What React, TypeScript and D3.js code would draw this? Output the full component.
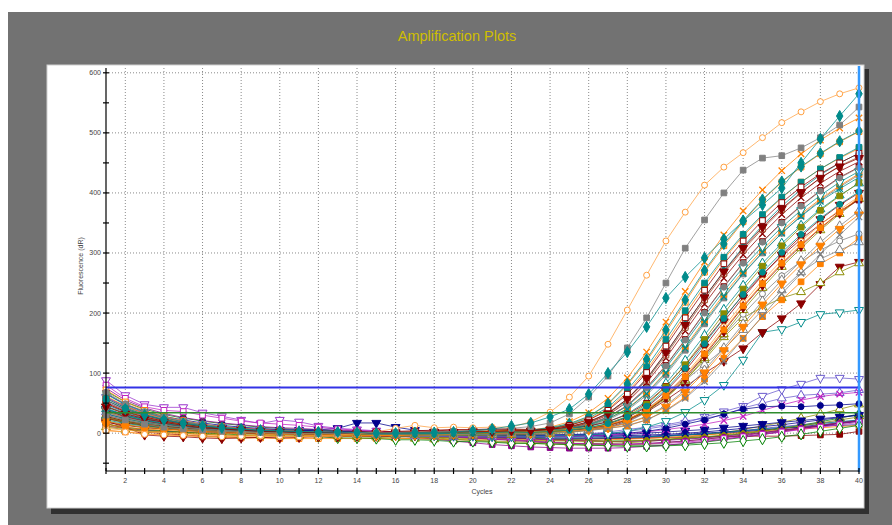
import React from 'react';
import * as d3 from 'd3';

// cycle numbers on the x axis
const cycles = [1, 2, 3, 4, 5, 6, 7, 8, 9, 10, 11, 12, 13, 14, 15, 16, 17, 18, 19, 20,
  21, 22, 23, 24, 25, 26, 27, 28, 29, 30, 31, 32, 33, 34, 35, 36, 37, 38, 39, 40];
const xLabelTicks = [2, 4, 6, 8, 10, 12, 14, 16, 18, 20, 22, 24, 26, 28, 30, 32, 34, 36, 38, 40];
const yLabelTicks = [0, 100, 200, 300, 400, 500, 600];
const yMinorTicks = [-50, 50, 150, 250, 350, 450, 550];
const thresholds = [76, 34];

// early risers (cycles 1-22 | 23-40)
const outlierCurves = [
  [4, 2, -2, -3, -4, -5, -6, -5, -4, -5, -6, -4, -3, -1, 2, 8, 13, 9, 10, 9, 10, 10,
    19, 35, 60, 95, 148, 205, 263, 320, 368, 413, 443, 467, 492, 517, 535, 552, 565, 575],
  [30, 22, 15, 10, 7, 5, 3, 2, 1, 0, -1, -1, 0, 1, 0, 1, 2, 2, 3, 4, 6, 8,
    11, 17, 32, 60, 95, 142, 192, 250, 308, 355, 400, 438, 458, 462, 475, 492, 513, 543],
  [55, 40, 30, 22, 16, 12, 9, 7, 5, 4, 3, 2, 2, 1, 0, 0, 1, 1, 2, 4, 7, 12,
    17, 27, 40, 65, 100, 135, 177, 225, 260, 292, 323, 353, 380, 408, 450, 490, 528, 565],
];

// main amplified bundle
const ampCurves = [
  [62, 45, 33, 25, 18, 13, 10, 7, 5, 4, 3, 2, 1, 0, 0, -1, -1, -2, -2, -1, 0, 1,
    3, 7, 13, 23, 40, 68, 105, 150, 198, 245, 290, 328, 362, 392, 418, 440, 458, 474],
  [48, 35, 26, 19, 14, 10, 7, 5, 3, 2, 1, 1, 0, 0, -1, -1, -2, -2, -3, -2, -1, 0,
    2, 5, 10, 19, 33, 57, 90, 133, 180, 226, 270, 310, 346, 378, 406, 430, 450, 466],
  [55, 40, 30, 22, 16, 12, 9, 6, 4, 3, 2, 1, 0, 0, 1, 2, 3, 4, 5, 5, 6, 6,
    5, 6, 9, 15, 27, 46, 76, 113, 156, 201, 244, 284, 319, 351, 379, 404, 426, 443],
  [30, 22, 16, 12, 9, 6, 4, 3, 2, 1, 1, 0, 0, -1, -1, -2, -2, -2, -1, -1, 0, 1,
    1, 3, 7, 12, 22, 38, 63, 97, 138, 182, 225, 265, 300, 333, 362, 388, 410, 430],
  [72, 52, 38, 28, 21, 15, 11, 8, 6, 4, 3, 2, 1, 0, -1, -1, -2, -2, -2, -2, -1, 0,
    4, 8, 15, 27, 48, 80, 120, 168, 218, 268, 312, 352, 388, 418, 443, 465, 485, 502],
  [40, 28, 21, 15, 11, 8, 6, 4, 3, 2, 1, 0, 0, -1, -1, -1, 0, 0, 1, 2, 3, 4,
    4, 5, 7, 11, 19, 32, 53, 83, 121, 163, 206, 246, 283, 316, 346, 373, 396, 416],
  [18, 13, 9, 7, 5, 3, 2, 1, 0, 0, -1, -1, -2, -2, -3, -3, -3, -3, -2, -2, -1, 0,
    0, 2, 5, 8, 15, 26, 43, 70, 104, 144, 186, 226, 263, 297, 328, 356, 380, 400],
  [10, 6, 3, 1, 0, -2, -3, -4, -4, -5, -5, -5, -4, -4, -3, -3, -2, -1, 0, 1, 2, 3,
    3, 4, 6, 9, 14, 22, 36, 58, 88, 125, 165, 205, 242, 277, 308, 338, 365, 390],
  [35, 25, 18, 13, 9, 6, 4, 3, 2, 1, 0, 0, -1, -1, -1, -2, -1, 0, 1, 2, 3, 4,
    5, 10, 19, 34, 58, 92, 135, 185, 236, 285, 330, 370, 405, 437, 465, 488, 508, 525],
  [65, 47, 35, 26, 19, 14, 10, 7, 5, 3, 2, 1, 0, 0, -1, -1, -1, -1, 0, 0, 1, 2,
    4, 8, 14, 25, 43, 72, 110, 156, 204, 250, 293, 331, 364, 393, 418, 440, 459, 476],
  [25, 18, 13, 9, 6, 4, 2, 1, 0, -1, -1, -2, -2, -2, -3, -3, -2, -2, -1, 0, 0, 1,
    2, 4, 9, 17, 30, 52, 84, 125, 170, 215, 258, 297, 332, 364, 392, 416, 436, 452],
  [45, 33, 24, 18, 13, 9, 6, 4, 3, 2, 1, 0, -1, -1, -2, -2, -2, -3, -3, -2, -2, -1,
    0, 1, 3, 6, 10, 17, 28, 46, 72, 105, 142, 182, 220, 255, 287, 318, 345, 370],
  [50, 36, 27, 20, 14, 10, 7, 5, 3, 2, 1, 0, 0, 0, 1, 1, 2, 2, 3, 3, 4, 5,
    5, 6, 9, 14, 24, 41, 67, 102, 144, 188, 231, 270, 305, 337, 365, 390, 412, 432],
  [22, 16, 12, 9, 6, 4, 3, 2, 1, 0, 0, -1, -1, -2, -2, -2, -3, -3, -2, -2, -1, 0,
    1, 3, 7, 14, 26, 45, 73, 109, 151, 195, 237, 276, 311, 343, 371, 396, 418, 436],
  [38, 27, 20, 15, 11, 8, 6, 4, 3, 2, 2, 1, 1, 2, 2, 3, 4, 5, 6, 6, 7, 7,
    6, 7, 9, 12, 19, 31, 50, 78, 113, 152, 192, 230, 264, 295, 323, 348, 370, 388],
  [58, 42, 31, 23, 17, 12, 9, 6, 4, 3, 2, 1, 0, -1, -1, -2, -2, -2, -2, -1, 0, 1,
    2, 5, 10, 18, 32, 55, 88, 130, 176, 222, 266, 305, 340, 372, 400, 425, 445, 460],
  [8, 5, 2, 0, -1, -3, -4, -5, -5, -6, -6, -6, -5, -5, -4, -4, -3, -3, -2, -1, 0, 1,
    1, 2, 4, 7, 13, 23, 39, 64, 97, 136, 177, 217, 254, 288, 319, 347, 372, 394],
  [33, 24, 18, 13, 9, 7, 5, 3, 2, 1, 0, 0, -1, -1, -1, 0, 0, 1, 1, 2, 3, 4,
    5, 9, 16, 28, 49, 82, 123, 172, 222, 271, 315, 354, 389, 419, 444, 466, 486, 503],
  [28, 20, 15, 11, 8, 6, 4, 3, 2, 1, 0, 0, -1, -1, -2, -2, -2, -1, -1, 0, 1, 2,
    2, 3, 5, 8, 13, 22, 37, 60, 91, 129, 170, 210, 247, 281, 312, 341, 367, 391],
  [68, 49, 36, 27, 20, 14, 10, 7, 5, 4, 3, 2, 1, 0, 0, -1, -1, -1, -1, 0, 0, 1,
    2, 4, 8, 15, 27, 46, 75, 112, 155, 200, 243, 283, 318, 350, 378, 403, 425, 442],
  [15, 10, 7, 5, 3, 1, 0, -1, -2, -2, -3, -3, -3, -3, -4, -4, -3, -3, -2, -1, 0, 0,
    0, 1, 3, 5, 9, 16, 27, 44, 69, 101, 138, 177, 214, 249, 281, 312, 340, 364],
  [42, 30, 22, 16, 12, 9, 6, 4, 3, 2, 1, 0, 0, -1, -1, -1, -1, 0, 0, 1, 2, 3,
    3, 5, 8, 13, 24, 40, 66, 100, 141, 185, 227, 266, 301, 333, 361, 386, 407, 426],
  [26, 19, 14, 10, 7, 5, 3, 2, 1, 0, 0, -1, -1, -2, -2, -2, -2, -2, -1, -1, 0, 1,
    1, 2, 5, 9, 16, 28, 48, 77, 114, 156, 199, 240, 278, 312, 343, 371, 395, 417],
  [50, 36, 27, 20, 15, 11, 8, 6, 4, 3, 2, 1, 1, 0, 0, 0, 1, 1, 2, 2, 3, 4,
    4, 7, 13, 22, 38, 65, 101, 145, 192, 238, 282, 320, 354, 384, 410, 432, 450, 466],
  [36, 26, 19, 14, 10, 7, 5, 3, 2, 1, 0, 0, -1, -1, -2, -2, -3, -3, -3, -2, -2, -1,
    -1, 0, 2, 4, 8, 13, 22, 37, 58, 86, 120, 158, 195, 232, 266, 298, 330, 360],
  [20, 14, 10, 7, 5, 3, 2, 1, 0, 0, -1, -1, -1, -1, 0, 0, 1, 1, 2, 2, 3, 4,
    3, 4, 6, 9, 14, 23, 38, 62, 94, 132, 172, 212, 249, 283, 314, 342, 368, 392],
  [58, 42, 31, 23, 17, 12, 9, 6, 4, 3, 2, 1, 0, 0, -1, -1, -1, -1, 0, 0, 1, 2,
    1, 3, 5, 9, 16, 27, 45, 73, 108, 149, 191, 231, 268, 301, 331, 358, 381, 402],
  [44, 32, 24, 18, 13, 9, 7, 5, 3, 2, 1, 1, 0, 0, 0, 1, 1, 2, 2, 3, 3, 4,
    4, 6, 11, 19, 33, 57, 91, 134, 180, 226, 269, 308, 343, 374, 401, 425, 444, 458],
];

// late, low-plateau curves
const lateCurves = [
  [40, 30, 22, 16, 12, 9, 6, 4, 3, 2, 1, 0, -1, -2, -2, -3, -3, -4, -4, -4, -5, -5,
    -5, -5, -4, -3, -1, 3, 10, 20, 35, 55, 80, 122, 168, 173, 185, 198, 201, 205],
  [20, 10, -3, -5, -6, -8, -9, -8, -7, -8, -7, -6, -6, -5, -5, -4, -4, -3, -3, -2, -2, -1,
    0, 2, 4, 7, 10, 20, 35, 55, 77, 100, 120, 141, 168, 191, 216, 248, 277, 285],
  [30, 22, 16, 12, 9, 6, 4, 2, 1, 0, -1, -1, -2, -2, -3, -3, -3, -4, -4, -4, -3, -3,
    -2, -1, 1, 5, 12, 22, 38, 60, 88, 122, 160, 192, 210, 225, 235, 250, 268, 283],
  [12, 8, 4, 2, 0, -2, -3, -4, -4, -5, -5, -4, -4, -3, -3, -2, -2, -1, 0, 1, 2, 3,
    3, 4, 5, 6, 8, 12, 22, 38, 60, 90, 125, 158, 194, 222, 252, 282, 300, 325],
  [52, 38, 28, 21, 15, 11, 8, 5, 4, 3, 2, 1, 0, -1, -1, -2, -2, -2, -1, -1, 0, 0,
    1, 2, 3, 5, 9, 18, 35, 62, 88, 114, 140, 172, 205, 238, 268, 290, 305, 318],
  [25, 18, 13, 9, 6, 4, 3, 2, 1, 0, 0, -1, -1, -1, -2, -2, -2, -1, -1, 0, 0, 1,
    1, 2, 4, 7, 12, 22, 40, 64, 95, 128, 163, 198, 232, 262, 286, 305, 320, 332],
];

// weak risers ending below 100
const midCurves = [
  [60, 45, 34, 26, 20, 15, 11, 8, 6, 4, 3, 2, 1, 0, -1, -2, -3, -4, -5, -5, -6, -6,
    -6, -5, -4, -2, 0, 3, 7, 12, 17, 27, 36, 45, 62, 73, 82, 92, 92, 90],
  [35, 26, 20, 14, 10, 7, 5, 3, 2, 1, 0, -1, -2, -3, -3, -4, -5, -5, -6, -6, -6, -5,
    -5, -4, -3, -1, 2, 6, 10, 14, 20, 25, 30, 42, 50, 58, 63, 65, 67, 72],
  [48, 35, 26, 20, 15, 11, 8, 6, 4, 3, 2, 1, 0, -1, -2, -3, -3, -4, -4, -5, -5, -6,
    -6, -6, -5, -4, -3, -1, 2, 6, 10, 15, 21, 28, 38, 47, 55, 61, 65, 68],
  [26, 19, 14, 10, 7, 5, 3, 2, 1, 0, 0, -1, -1, -1, 0, 0, 1, 1, 1, 0, 0, -1,
    -3, -3, -2, -2, -1, 0, 3, 8, 15, 22, 32, 40, 44, 45, 44, 46, 47, 49],
];

// no amplification
const flatCurves = [
  [88, 63, 48, 43, 43, 34, 28, 22, 16, 22, 19, 12, 8, 6, 4, 2, 0, -2, -3, -4, -5, -6,
    -7, -8, -9, -9, -8, -8, -7, -5, -3, -1, 1, 4, 8, 11, 14, 17, 19, 21],
  [70, 52, 40, 31, 25, 20, 16, 13, 10, 8, 6, 5, 4, 3, 1, 0, -1, -3, -5, -7, -9, -11,
    -13, -15, -17, -18, -19, -20, -20, -20, -18, -15, -11, -7, -2, 3, 8, 12, 16, 20],
  [32, 24, 18, 14, 11, 9, 7, 6, 5, 4, 4, 3, 2, 2, 1, 1, 0, 0, -1, -1, -2, -2,
    -3, -3, -4, -4, -5, -5, -5, -4, -3, -2, 0, 2, 5, 8, 11, 14, 17, 20],
  [16, 8, 2, -1, -3, -5, -6, -7, -7, -6, -6, -5, -5, -5, -5, -6, -6, -7, -7, -8, -8, -9,
    -9, -10, -10, -10, -9, -9, -8, -7, -7, -6, -6, -5, -5, -5, -4, -3, -2, 3],
  [24, 17, 12, 8, 5, 3, 1, 0, -1, -2, -3, -4, -5, -6, -7, -8, -9, -10, -11, -12, -13, -14,
    -15, -16, -17, -17, -17, -16, -14, -11, -7, -3, 1, 6, 12, 18, 25, 32, 40, 48],
  [60, 44, 33, 25, 19, 14, 11, 8, 6, 4, 3, 2, 1, 0, -2, -4, -7, -10, -13, -16, -19, -21,
    -23, -24, -25, -25, -25, -24, -22, -20, -17, -14, -10, -6, -2, 2, 7, 12, 17, 22],
  [45, 33, 25, 19, 14, 11, 8, 6, 5, 4, 3, 2, 1, 0, -1, -2, -3, -4, -5, -6, -7, -8,
    -9, -10, -11, -12, -13, -13, -12, -11, -9, -7, -4, -1, 3, 8, 13, 19, 25, 32],
  [12, 8, 5, 3, 2, 1, 0, 0, -1, -1, -2, -2, -3, -3, -3, -4, -4, -5, -5, -6, -6, -7,
    -7, -8, -8, -8, -8, -7, -6, -4, -2, 0, 2, 4, 6, 8, 10, 12, 13, 14],
  [5, 2, -1, -3, -4, -6, -7, -8, -8, -9, -9, -9, -9, -9, -9, -9, -9, -10, -10, -10, -10, -11,
    -11, -12, -12, -12, -11, -10, -9, -7, -5, -3, -1, 1, 3, 5, 7, 9, 11, 13],
  [38, 28, 21, 16, 12, 9, 7, 5, 3, 2, 1, 0, -1, -2, -3, -4, -6, -8, -10, -12, -14, -16,
    -17, -18, -19, -20, -20, -19, -18, -16, -13, -10, -7, -3, 1, 5, 9, 13, 17, 21],
  [20, 14, 10, 7, 5, 3, 2, 1, 0, -1, -1, -2, -2, -3, -3, -4, -4, -5, -5, -6, -6, -7,
    -7, -8, -8, -8, -8, -7, -6, -5, -3, -1, 1, 4, 7, 10, 13, 16, 19, 22],
  [75, 55, 42, 33, 26, 21, 17, 14, 11, 9, 8, 6, 5, 4, 3, 2, 1, 0, -2, -4, -6, -8,
    -10, -11, -12, -13, -14, -14, -13, -12, -10, -8, -5, -2, 1, 5, 9, 13, 17, 21],
  [40, 30, 23, 18, 14, 11, 9, 7, 6, 5, 5, 6, 8, 17, 17, 10, 5, 2, 0, -2, -3, -4,
    -5, -5, -5, -4, -3, -2, 0, 2, 4, 6, 9, 12, 15, 18, 21, 24, 27, 30],
  [28, 20, 15, 11, 8, 6, 4, 3, 2, 1, 0, -1, -2, -3, -4, -5, -6, -7, -8, -9, -10, -11,
    -12, -13, -13, -14, -14, -13, -12, -10, -8, -6, -3, 0, 4, 8, 12, 17, 22, 27],
  [52, 38, 29, 22, 17, 13, 10, 8, 6, 5, 4, 3, 2, 1, 0, -1, -2, -4, -6, -8, -10, -12,
    -14, -16, -17, -18, -18, -18, -17, -15, -13, -10, -7, -4, 0, 4, 8, 12, 16, 20],
  [66, 48, 36, 28, 22, 17, 13, 10, 8, 6, 5, 4, 3, 2, 1, 0, -1, -2, -2, -3, -3, -4,
    -4, -4, -5, -5, -5, -4, -3, -2, 0, 2, 5, 8, 11, 14, 18, 22, 26, 30],
  [80, 58, 44, 38, 36, 30, 25, 20, 17, 15, 13, 10, 7, 5, 3, 1, -1, -3, -5, -7, -9, -11,
    -13, -15, -17, -18, -19, -19, -18, -17, -15, -12, -9, -6, -2, 2, 6, 10, 14, 18],
  [15, 10, 6, 4, 2, 0, -1, -3, -3, -5, -5, -6, -8, -8, -9, -11, -11, -12, -14, -14, -15, -17,
    -17, -18, -19, -20, -21, -22, -22, -21, -20, -18, -16, -13, -10, -6, -2, 3, 8, 13],
];

// ---- styles ----
const col = {
  orange: '#FF8000', lorange: '#FFA040', teal: '#008B8B', dred: '#8B0000', gray: '#808080',
  olive: '#8B8B00', purple: '#8B008B', navy: '#00008B', green: '#008000', brown: '#A0522D',
  slate: '#6A5ACD', magenta: '#C020C0', violet: '#9932CC',
};
type Mark = [string, string, boolean]; // colour, shape, filled

const outlierMarks: Mark[] = [[col.lorange, 'circle', false], [col.gray, 'square', true], [col.teal, 'diamond', true]];
const ampMarks: Mark[] = [
  [col.orange, 'square', true], [col.teal, 'diamond', true], [col.dred, 'square', true], [col.gray, 'square', true],
  [col.orange, 'square', false], [col.teal, 'up', false], [col.dred, 'down', true], [col.olive, 'up', false],
  [col.orange, 'x', false], [col.teal, 'square', true], [col.dred, 'x', false], [col.gray, 'up', false],
  [col.orange, 'square', true], [col.teal, 'down', false], [col.dred, 'square', true], [col.brown, 'square', false],
  [col.lorange, 'circle', false], [col.teal, 'diamond', true], [col.dred, 'diamond', true], [col.gray, 'circle', true],
  [col.orange, 'down', true], [col.teal, 'x', false], [col.olive, 'square', true], [col.dred, 'square', false],
  [col.gray, 'x', false], [col.orange, 'square', true], [col.teal, 'circle', true], [col.dred, 'down', true],
];
const lateMarks: Mark[] = [
  [col.teal, 'down', false], [col.dred, 'down', true], [col.olive, 'up', false],
  [col.orange, 'square', true], [col.gray, 'up', false], [col.gray, 'circle', false],
];
const midMarks: Mark[] = [[col.slate, 'down', false], [col.slate, 'up', false], [col.magenta, 'x', false], [col.navy, 'circle', true]];
const flatMarks: Mark[] = [
  [col.violet, 'down', false], [col.green, 'circle', true], [col.navy, 'square', true], [col.dred, 'square', true],
  [col.olive, 'up', false], [col.purple, 'square', true], [col.green, 'up', true], [col.navy, 'square', false],
  [col.orange, 'square', false], [col.olive, 'down', true], [col.teal, 'circle', true], [col.purple, 'x', false],
  [col.navy, 'down', true], [col.olive, 'circle', true], [col.purple, 'circle', true], [col.navy, 'x', false],
  [col.magenta, 'square', false], [col.green, 'diamond', false],
];

const W = 892;
const H = 525;
const plot = { left: 106, right: 859, top: 68, bottom: 471 };
const font = "Arial, 'Liberation Sans', sans-serif";

const x = d3.scaleLinear().domain([1, 40]).range([plot.left, plot.right]);
const y = d3.scaleLinear().domain([-63, 608]).range([plot.bottom, plot.top]);

const line = d3.line<number>().x((_, i) => x(cycles[i])).y((v) => y(v));

const symbolTypes: Record<string, d3.SymbolType> = {
  square: d3.symbolSquare,
  diamond: d3.symbolDiamond,
  circle: d3.symbolCircle,
  up: d3.symbolTriangle,
  down: d3.symbolTriangle,
  x: (d3 as any).symbolTimes || d3.symbolCross,
};
const symbolSizes: Record<string, number> = { square: 32, diamond: 36, circle: 28, up: 34, down: 34, x: 28 };
const symbolPaths: Record<string, string> = {};
Object.keys(symbolTypes).forEach((k) => {
  symbolPaths[k] = d3.symbol().type(symbolTypes[k]).size(symbolSizes[k])() as string;
});

const Series = ({ values, mark }: { values: number[]; mark: Mark }) => {
  const [c, shape, filled] = mark;
  const isX = shape === 'x';
  return (
    <g>
      <path d={line(values) || ''} fill="none" stroke={c} strokeWidth={1} strokeOpacity={0.75} />
      {values.map((v, i) => (
        <path
          key={i}
          d={symbolPaths[shape]}
          transform={`translate(${x(cycles[i])},${y(v)})${shape === 'down' ? ' rotate(180)' : ''}`}
          fill={isX ? 'none' : filled ? c : '#fff'}
          stroke={c}
          strokeWidth={isX ? 1.3 : 1}
        />
      ))}
    </g>
  );
};

export default function App() {
  return (
    <svg width={W} height={H} style={{ position: 'absolute', left: 0, top: 0, display: 'block' }}>
      <rect x={0} y={0} width={W} height={H} fill="#fff" />
      <rect x={8} y={12} width={W - 8} height={H - 12} fill="#727272" />
      {/* panel shadow + panel */}
      <rect x={51} y={69} width={818} height={445} fill="#303030" />
      <rect x={47} y={65} width={817} height={443} fill="#fff" stroke="#d0d0d0" strokeWidth={1} />
      <text x={457} y={41} textAnchor="middle" fontFamily={font} fontSize={14.5} fill="#D0BE00">
        Amplification Plots
      </text>

      {/* grid */}
      <g stroke="#8a8a8a" strokeWidth={1} strokeDasharray="1,2">
        {yLabelTicks.map((t) => (
          <line key={'gy' + t} x1={plot.left} x2={plot.right} y1={y(t)} y2={y(t)} />
        ))}
        {xLabelTicks.map((t) => (
          <line key={'gx' + t} x1={x(t)} x2={x(t)} y1={plot.top} y2={plot.bottom} />
        ))}
      </g>

      {/* curves */}
      {flatCurves.map((s, i) => <Series key={'f' + i} values={s} mark={flatMarks[i]} />)}
      {midCurves.map((s, i) => <Series key={'m' + i} values={s} mark={midMarks[i]} />)}
      {lateCurves.map((s, i) => <Series key={'l' + i} values={s} mark={lateMarks[i]} />)}
      {ampCurves.map((s, i) => <Series key={'a' + i} values={s} mark={ampMarks[i]} />)}
      {outlierCurves.map((s, i) => <Series key={'o' + i} values={s} mark={outlierMarks[i]} />)}

      {/* thresholds */}
      <line x1={plot.left} x2={plot.right} y1={y(thresholds[0])} y2={y(thresholds[0])} stroke="#3232E6" strokeWidth={2} />
      <line x1={plot.left} x2={plot.right} y1={y(thresholds[1])} y2={y(thresholds[1])} stroke="#2E8B2E" strokeWidth={1.6} />
      <line x1={x(40)} x2={x(40)} y1={plot.top - 2} y2={plot.bottom + 1} stroke="#3399FF" strokeWidth={2.5} />

      {/* axes */}
      <g stroke="#000" strokeWidth={1.2}>
        <line x1={plot.left} x2={plot.left} y1={plot.top} y2={plot.bottom} />
        <line x1={plot.left} x2={plot.right} y1={plot.bottom} y2={plot.bottom} />
        {[...yLabelTicks, ...yMinorTicks].map((t) => (
          <line key={'ty' + t} x1={plot.left - 3} x2={plot.left + 3} y1={y(t)} y2={y(t)} />
        ))}
        {cycles.map((c) => (
          <line key={'tx' + c} x1={x(c)} x2={x(c)} y1={plot.bottom - 3} y2={plot.bottom + 3} />
        ))}
      </g>
      <g fontFamily={font} fontSize={7} fill="#444">
        {yLabelTicks.map((t) => (
          <text key={'ly' + t} x={plot.left - 5} y={y(t) + 2.5} textAnchor="end">{t}</text>
        ))}
        {xLabelTicks.map((t) => (
          <text key={'lx' + t} x={x(t)} y={plot.bottom + 12} textAnchor="middle">{t}</text>
        ))}
        <text x={482} y={494} textAnchor="middle">Cycles</text>
        <text transform={`translate(83,266) rotate(-90)`} textAnchor="middle">Fluorescence (dR)</text>
      </g>
    </svg>
  );
}
